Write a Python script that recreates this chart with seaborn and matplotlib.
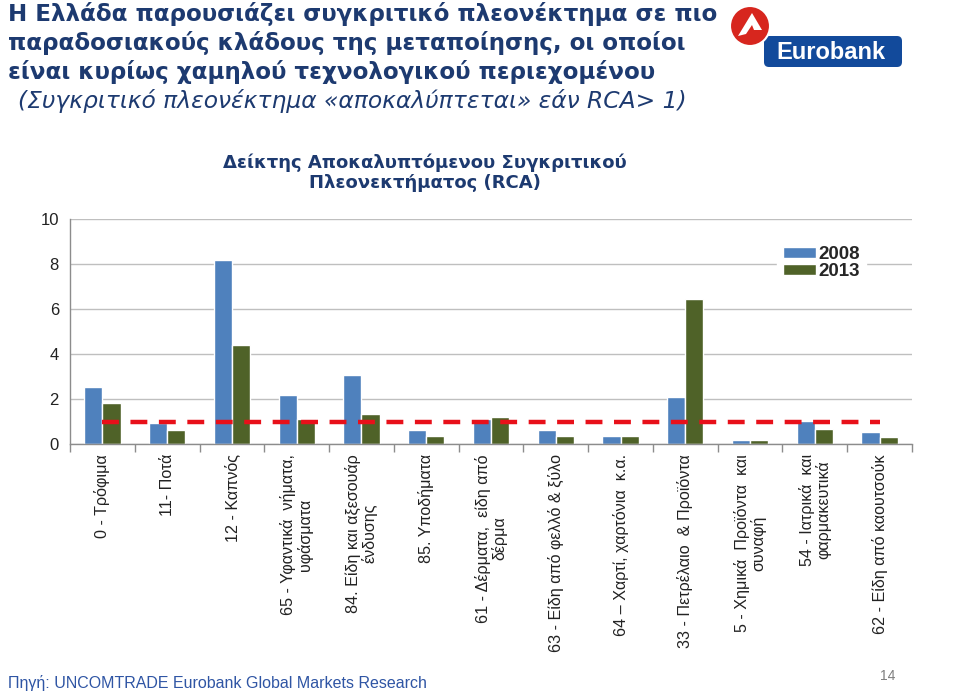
import numpy as np
import pandas as pd
import matplotlib
matplotlib.use('Agg')
import matplotlib.pyplot as plt
import matplotlib.patches as mpatches
import seaborn as sns

# Data
sectors = [
    '0 - Τρόφιμα',
    '11- Ποτά',
    '12 - Καπνός',
    '65 - Υφαντικά  νήματα,\nυφάσματα',
    '84. Είδη και αξεσουάρ\nένδυσης',
    '85. Υποδήματα',
    '61 - Δέρματα,  είδη από\nδέρμα',
    '63 - Είδη από φελλό & ξύλο',
    '64 – Χαρτί, χαρτόνια  κ.α.',
    '33 - Πετρέλαιο  & Προϊόντα',
    '5 - Χημικά  Προϊόντα  και\nσυναφή',
    '54 - Ιατρικά  και\nφαρμακευτικά',
    '62 - Είδη από καουτσούκ',
]
rca_2008 = [2.56, 0.93, 8.15, 2.19, 3.06, 0.62, 1.14, 0.62, 0.38, 2.10, 0.18, 1.02, 0.56]
rca_2013 = [1.83, 0.62, 4.39, 1.10, 1.34, 0.35, 1.20, 0.38, 0.38, 6.44, 0.18, 0.69, 0.34]
years = ['2008', '2013']
threshold = [1.0] * len(sectors)

BLUE = '#4F81BD'
GREEN = '#4F6228'
RED = '#E8101A'
NAVY = '#1D3A70'

df = pd.DataFrame({
    'sector': sectors * 2,
    'rca': rca_2008 + rca_2013,
    'year': [years[0]] * len(sectors) + [years[1]] * len(sectors),
})

sns.set_theme(style="white")
plt.rcParams['font.family'] = ['Liberation Sans', 'DejaVu Sans']
WIDE = ['DejaVu Sans']

fig = plt.figure(figsize=(9.6, 6.94), dpi=100)
ax = fig.add_axes([70 / 960, 1 - 444.3 / 694, 842 / 960, 225.6 / 694])

sns.barplot(data=df, x='sector', y='rca', hue='year', palette=[BLUE, GREEN],
            width=0.56, gap=0, saturation=1, ax=ax, zorder=2)

# RCA = 1 threshold
ax.plot(np.arange(len(sectors)), threshold, color=RED, lw=3.2,
        dashes=(3.8, 2.6), zorder=3)

ax.set_ylim(0, 10)
ax.set_xlim(-0.5, len(sectors) - 0.5)
ax.set_yticks([0, 2, 4, 6, 8, 10])
ax.yaxis.grid(True, color='#BFBFBF', lw=1)
ax.set_axisbelow(True)
ax.set_xlabel('')
ax.set_ylabel('')
for side in ['top', 'right']:
    ax.spines[side].set_visible(False)
for side in ['left', 'bottom']:
    ax.spines[side].set_color('#8C8C8C')
    ax.spines[side].set_linewidth(1)

ax.tick_params(axis='y', length=5, color='#8C8C8C', labelsize=12, labelcolor='#222222', pad=3)
ax.set_xticks(np.arange(len(sectors)))
ax.set_xticklabels(sectors, rotation=90, va='top', ha='center',
                   multialignment='center', fontsize=11.6, color='#222222',
                   linespacing=1.05)
ax.tick_params(axis='x', which='major', length=0, pad=7)
ax.set_xticks(np.arange(len(sectors) + 1) - 0.5, minor=True)
ax.tick_params(axis='x', which='minor', length=6, color='#8C8C8C', bottom=True)

leg = ax.legend(loc='upper left', bbox_to_anchor=(768 / 960, 1 - 231 / 694),
                bbox_transform=fig.transFigure, frameon=True, fancybox=False,
                framealpha=1, edgecolor='white', prop={'weight': 'bold', 'size': 13.5},
                handlelength=1.75, handleheight=0.55, handletextpad=0.15,
                labelspacing=0.0, borderpad=0.3)

# Headline
head = ['Η Ελλάδα παρουσιάζει συγκριτικό πλεονέκτημα σε πιο',
        'παραδοσιακούς κλάδους της μεταποίησης, οι οποίοι',
        'είναι κυρίως χαμηλού τεχνολογικού περιεχομένου']
for i, line in enumerate(head):
    fig.text(8 / 960, 1 - (21 + 29 * i) / 694, line, fontsize=16.6, fontweight='bold',
             color=NAVY, va='baseline', ha='left', family=WIDE)
fig.text(18 / 960, 1 - 108 / 694,
         '(Συγκριτικό πλεονέκτημα «αποκαλύπτεται» εάν RCA> 1)',
         fontsize=16.8, fontstyle='italic', color=NAVY, va='baseline', ha='left',
         family=WIDE)

fig.text(425 / 960, 1 - 154 / 694,
         'Δείκτης Αποκαλυπτόμενου Συγκριτικού\nΠλεονεκτήματος (RCA)',
         fontsize=13, fontweight='bold', color=NAVY, ha='center', va='top',
         linespacing=1.1, family=WIDE)

fig.text(8 / 960, 1 - 688 / 694,
         'Πηγή: UNCOMTRADE Eurobank Global Markets Research',
         fontsize=11.5, color='#2F55A4', ha='left', va='baseline')
fig.text(888 / 960, 1 - 680 / 694, '14', fontsize=10, color='#7F7F7F',
         ha='center', va='baseline')

# Eurobank logo
lax = fig.add_axes([0, 0, 1, 1], zorder=5)
lax.set_xlim(0, 960)
lax.set_ylim(694, 0)
lax.axis('off')
lax.add_patch(mpatches.FancyBboxPatch((764, 36), 138, 31,
                                      boxstyle='round,pad=0,rounding_size=5',
                                      fc='#124A9B', ec='none'))
lax.add_patch(mpatches.Circle((750, 26), 20, fc='#D7261E', ec='white', lw=1.5))
lax.add_patch(mpatches.Polygon([(738, 36), (752, 13), (762, 30), (754, 30),
                                (752, 25), (746, 34)], closed=True,
                               fc='white', ec='none'))
lax.text(831, 52, 'Eurobank', color='white', fontsize=17, ha='center',
         va='center', fontweight='bold')

fig.savefig('out.png', dpi=100)
